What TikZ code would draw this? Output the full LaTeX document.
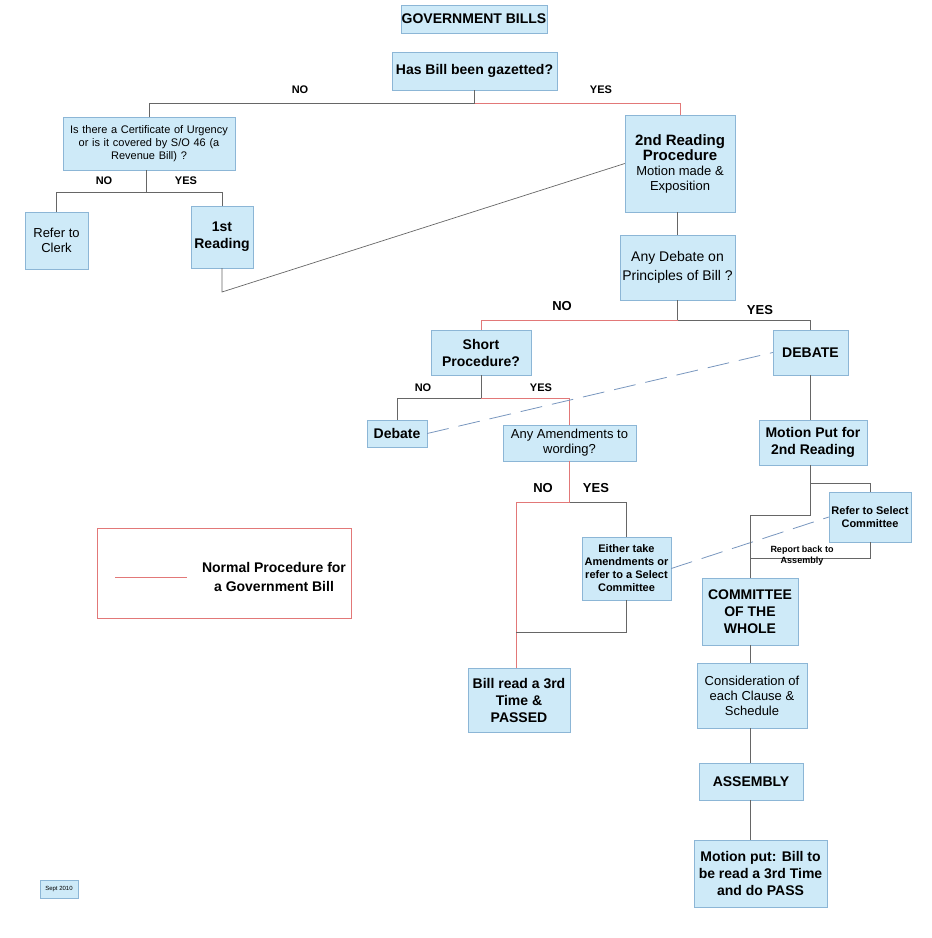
\documentclass[tikz,border=0pt]{standalone}
\usepackage{fontspec}
\setmainfont{Liberation Sans}
\usetikzlibrary{calc}

\definecolor{boxfill}{RGB}{206,234,248}
\definecolor{boxline}{RGB}{140,182,214}
\definecolor{normline}{RGB}{226,120,120}
\definecolor{dashline}{RGB}{120,150,190}

\tikzset{
  box/.style={draw=boxline, fill=boxfill, inner sep=0pt, align=center, font=\fontsize{13}{15}\selectfont},
  bbox/.style={box, font=\bfseries\fontsize{14}{17}\selectfont},
  sbox/.style={box, font=\fontsize{11}{13}\selectfont},
  sbbox/.style={box, font=\bfseries\fontsize{11}{13}\selectfont},
  gry/.style={draw=gray!80!black, line width=0.7pt},
  nrm/.style={draw=normline, line width=0.8pt},
  lnk/.style={draw=dashline, line width=0.8pt, dash pattern=on 22pt off 10pt},
  lbl/.style={font=\bfseries\fontsize{11}{13}\selectfont, inner sep=1pt}
}

\begin{document}
\begin{tikzpicture}[x=1pt, y=-1pt]
        \useasboundingbox (0,0) rectangle (932,938);

        % boxes
        \node[bbox, minimum width=146, minimum height=28] (title) at (474,19) {GOVERNMENT BILLS};
        \node[bbox, minimum width=165, minimum height=38] (gaz) at (474.5,71) {Has Bill been gazetted?};
        \node[sbox, minimum width=172, minimum height=53, text width=168] (urg) at (149,143.5)
            {Is there a Certificate of Urgency\\or is it covered by S/O 46 (a\\Revenue Bill) ?};
        \node[box, minimum width=63, minimum height=57] (clerk) at (56.5,240.5) {Refer to\\Clerk};
        \node[bbox, minimum width=62, minimum height=62] (first) at (222,237) {1st\\Reading};
        \node[box, minimum width=110, minimum height=97] (second) at (680,163.5)
            {\bfseries\fontsize{15}{20}\selectfont 2nd Reading\\\bfseries\fontsize{15}{20}\selectfont Procedure\\Motion made \&\\Exposition};
        \node[box, minimum width=115, minimum height=65, font=\fontsize{14}{19}\selectfont] (anydeb) at (677.5,267.5)
            {Any Debate on\\Principles of Bill ?};
        \node[bbox, minimum width=100, minimum height=45] (short) at (481,352.5) {Short\\Procedure?};
        \node[bbox, minimum width=75, minimum height=45] (debate) at (810.5,352.5) {DEBATE};
        \node[bbox, minimum width=60, minimum height=27] (sdeb) at (397,433.5) {Debate};
        \node[box, minimum width=133, minimum height=36] (amend) at (569.5,443) {Any Amendments to\\wording?};
        \node[bbox, minimum width=108, minimum height=45] (motion) at (813,442.5) {Motion Put for\\2nd Reading};
        \node[sbbox, minimum width=89, minimum height=63] (either) at (626.5,568.5)
            {Either take\\Amendments or\\refer to a Select\\Committee};
        \node[sbbox, minimum width=82, minimum height=50] (select) at (870,517) {Refer to Select\\Committee};
        \node[bbox, minimum width=96, minimum height=67] (whole) at (750,611.5) {COMMITTEE\\OF THE\\WHOLE};
        \node[bbox, minimum width=102, minimum height=64] (third) at (519,700) {Bill read a 3rd\\Time \&\\PASSED};
        \node[box, minimum width=110, minimum height=65] (clause) at (752,695.5)
            {Consideration of\\each Clause \&\\Schedule};
        \node[bbox, minimum width=104, minimum height=37] (assem) at (751,781.5) {ASSEMBLY};
        \node[bbox, minimum width=133, minimum height=67] (final) at (760.5,873.5)
            {Motion put: Bill to\\be read a 3rd Time\\and do PASS};
        \node[draw=boxline, fill=boxfill, inner sep=0pt, minimum width=38, minimum height=18,
              font=\fontsize{6}{7}\selectfont] (sept) at (59,889) {Sept 2010};

        % legend
        \draw[nrm, line width=0.6pt] (97,528) rectangle (351,618);
        \coordinate (la) at (115,577);
        \coordinate (lb) at (187,577);
        \draw[nrm] (la) -- (lb);
        \node[font=\bfseries\fontsize{14}{19}\selectfont, align=center] (legtxt) at (274,577)
            {Normal Procedure for\\a Government Bill};

        % connectors
        \coordinate (g1) at (474.5,103);
        \draw[gry] (gaz.south) -- (g1) -| (urg.north);
        \draw[nrm] (g1) -| (second.north);
        \node[lbl] (gno) at (300,90) {NO};
        \node[lbl] (gyes) at (601,90) {YES};

        \coordinate (u1) at (146,192);
        \draw[gry] (urg.south -| u1) -- (u1);
        \draw[gry] (u1) -| (clerk.north);
        \draw[gry] (u1) -| (first.north);
        \node[lbl] (uno) at (104,181) {NO};
        \node[lbl] (uyes) at (186,181) {YES};

        \coordinate (f1) at (222,292);
        \draw[gry] (first.south) -- (f1) -- (second.west);
        \draw[gry] (second.south -| anydeb.north) -- (anydeb.north);

        \coordinate (a1) at (677.5,320);
        \draw[gry] (anydeb.south) -- (a1) -| (debate.north);
        \draw[nrm] (a1) -| (short.north);
        \node[lbl, font=\bfseries\fontsize{13}{15}\selectfont] (ano) at (562,306) {NO};
        \node[lbl, font=\bfseries\fontsize{13}{15}\selectfont] (ayes) at (760,310) {YES};

        \coordinate (s1) at (481,398);
        \draw[gry] (short.south) -- (s1) -| (sdeb.north);
        \draw[nrm] (s1) -| (amend.north);
        \node[lbl] (sno) at (423,388) {NO};
        \node[lbl] (syes) at (541,388) {YES};

        \draw[lnk] (sdeb.east) -- (debate.west);
        \draw[gry] (debate.south) -- (motion.north -| debate.south);

        \coordinate (m1) at (569.5,502);
        \coordinate (m2) at (516,632);
        \draw[nrm] (amend.south) -- (m1) -| (third.north -| m2) -- (third.north -| m2);
        \draw[gry] (m1) -| (either.north);
        \draw[gry] (either.south) |- (m2);
        \node[lbl, font=\bfseries\fontsize{13}{15}\selectfont] (mno) at (543,488) {NO};
        \node[lbl, font=\bfseries\fontsize{13}{15}\selectfont] (myes) at (596,488) {YES};

        \draw[lnk] (either.east) -- (select.west);

        \coordinate (r1) at (810.5,483);
        \coordinate (r2) at (810.5,515);
        \coordinate (r3) at (750,515);
        \coordinate (r4) at (750,558);
        \draw[gry] (motion.south -| r1) -- (r2);
        \draw[gry] (r1) -| (select.north);
        \draw[gry] (r2) -- (r3) -- (whole.north);
        \draw[gry] (select.south) |- (r4);
        \node[lbl, font=\bfseries\fontsize{9}{11}\selectfont, align=center] (rep) at (802,556) {Report back to\\Assembly};

        \draw[gry] (whole.south) -- (clause.north -| whole.south);
        \draw[gry] (clause.south -| whole.south) -- (assem.north -| whole.south);
        \draw[gry] (assem.south -| whole.south) -- (final.north -| whole.south);
\end{tikzpicture}
\end{document}
